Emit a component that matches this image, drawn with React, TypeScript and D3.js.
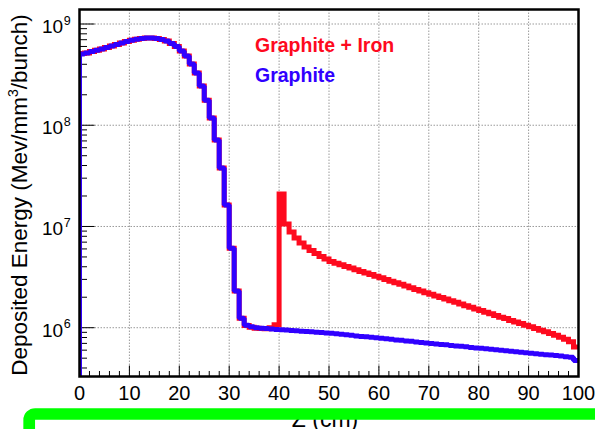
import React from "react";
import * as d3 from "d3";

// Energy deposited per 1 cm bin along Z (MeV/mm^3/bunch)
const graphite: number[] = [
  5.06e8, 5.17e8, 5.35e8, 5.5e8, 5.66e8, 5.86e8, 6.07e8, 6.27e8, 6.49e8, 6.71e8,
  6.9e8, 7.06e8, 7.19e8, 7.28e8, 7.28e8, 7.19e8, 7.03e8, 6.79e8, 6.41e8, 6.0e8,
  5.41e8, 4.83e8, 4.03e8, 3.28e8, 2.44e8, 1.77e8, 1.18e8, 7.14e7, 3.78e7, 1.63e7,
  6.1e6, 2.3e6, 1.24e6, 1.06e6, 1.02e6, 1.0e6, 9.9e5, 9.8e5, 9.7e5, 9.6e5,
  9.55e5, 9.47e5, 9.4e5, 9.32e5, 9.25e5, 9.17e5, 9.1e5, 9.02e5, 8.95e5, 8.87e5,
  8.8e5, 8.7e5, 8.6e5, 8.5e5, 8.4e5, 8.3e5, 8.21e5, 8.12e5, 8.03e5, 7.94e5,
  7.85e5, 7.76e5, 7.67e5, 7.58e5, 7.5e5, 7.41e5, 7.33e5, 7.24e5, 7.16e5, 7.08e5,
  7.0e5, 6.92e5, 6.84e5, 6.77e5, 6.69e5, 6.61e5, 6.54e5, 6.47e5, 6.39e5, 6.32e5,
  6.25e5, 6.18e5, 6.11e5, 6.04e5, 5.98e5, 5.91e5, 5.85e5, 5.78e5, 5.72e5, 5.66e5,
  5.6e5, 5.54e5, 5.48e5, 5.42e5, 5.36e5, 5.3e5, 5.24e5, 5.17e5, 5.1e5, 4.75e5,
];

const graphiteIron: number[] = [
  5.12e8, 5.17e8, 5.35e8, 5.5e8, 5.66e8, 5.86e8, 6.07e8, 6.27e8, 6.49e8, 6.71e8,
  6.9e8, 7.06e8, 7.19e8, 7.28e8, 7.28e8, 7.19e8, 7.03e8, 6.79e8, 6.41e8, 6.0e8,
  5.41e8, 4.83e8, 4.03e8, 3.28e8, 2.44e8, 1.77e8, 1.18e8, 7.14e7, 3.78e7, 1.63e7,
  6.1e6, 2.3e6, 1.24e6, 1.05e6, 1.01e6, 9.9e5, 9.8e5, 9.75e5, 1.0e6, 1.07e6,
  2.09e7, 1.057e7, 8.81e6, 7.68e6, 6.85e6, 6.26e6, 5.78e6, 5.4e6, 5.04e6, 4.76e6,
  4.5e6, 4.34e6, 4.18e6, 4.03e6, 3.88e6, 3.74e6, 3.6e6, 3.47e6, 3.35e6, 3.22e6,
  3.11e6, 2.99e6, 2.88e6, 2.78e6, 2.68e6, 2.58e6, 2.48e6, 2.39e6, 2.31e6, 2.22e6,
  2.14e6, 2.06e6, 1.99e6, 1.92e6, 1.85e6, 1.78e6, 1.71e6, 1.65e6, 1.59e6, 1.53e6,
  1.48e6, 1.42e6, 1.37e6, 1.32e6, 1.27e6, 1.23e6, 1.18e6, 1.14e6, 1.1e6, 1.06e6,
  1.02e6, 9.8e5, 9.45e5, 9.1e5, 8.75e5, 8.4e5, 8.05e5, 7.7e5, 7.25e5, 6.45e5,
];

const xTicks: number[] = [0, 10, 20, 30, 40, 50, 60, 70, 80, 90, 100];
const yDecades: number[] = [6, 7, 8, 9];
const legendLabels: string[] = ["Graphite + Iron", "Graphite"];

const W = 595;
const H = 429;
const L = 79.5;
const R = 578.5;
const T = 9.5;
const B = 376.5;
const RED = "#fe0a1e";
const BLUE = "#3000ff";
const FONT = "'Liberation Sans', Arial, Helvetica, sans-serif";

export default function App() {
  const x = d3.scaleLinear().domain([0, 100]).range([L, R]);
  const y = d3.scaleLog().domain([3.296e5, 1.391e9]).range([B, T]);
  const [yMin] = y.domain();

  const histPath = (vals: number[]) => {
    const pts: [number, number][] = [[0, yMin]];
    vals.forEach((v, i) => pts.push([i, v]));
    pts.push([vals.length, vals[vals.length - 1]]);
    return (
      d3
        .line<[number, number]>()
        .x((d) => x(d[0]))
        .y((d) => y(d[1]))
        .curve(d3.curveStepAfter)(pts) || ""
    );
  };

  const xMinor = d3.range(0, 101, 2).filter((v) => v % 10 !== 0);
  const yMinor: number[] = [];
  for (let d = 5; d <= 9; d++) {
    for (let k = 2; k <= 9; k++) {
      const v = k * Math.pow(10, d);
      if (v > y.domain()[0] && v < y.domain()[1]) yMinor.push(v);
    }
  }

  return (
    <svg
      width={W}
      height={H}
      style={{ position: "absolute", left: 0, top: 0, background: "#fff" }}
    >
      <defs>
        <clipPath id="plotArea">
          <rect x={L} y={T} width={R - L} height={B - T} />
        </clipPath>
      </defs>
      <rect x={0} y={0} width={W} height={H} fill="#fff" />

      {/* grid */}
      <g stroke="#9a9a9a" strokeWidth={1} strokeDasharray="1.5,1.5">
        {xTicks
          .filter((t) => t > 0 && t < 100)
          .map((t) => (
            <line key={"gx" + t} x1={x(t)} x2={x(t)} y1={T} y2={B} />
          ))}
        {yDecades.map((d) => (
          <line
            key={"gy" + d}
            x1={L}
            x2={R}
            y1={y(Math.pow(10, d))}
            y2={y(Math.pow(10, d))}
          />
        ))}
      </g>

      {/* ticks */}
      <g stroke="#000" strokeWidth={1}>
        {xTicks.map((t) => (
          <line key={"tx" + t} x1={x(t)} x2={x(t)} y1={B} y2={B - 11} />
        ))}
        {xMinor.map((t) => (
          <line key={"mx" + t} x1={x(t)} x2={x(t)} y1={B} y2={B - 5.5} />
        ))}
        {yDecades.map((d) => (
          <line
            key={"ty" + d}
            x1={L}
            x2={L + 15}
            y1={y(Math.pow(10, d))}
            y2={y(Math.pow(10, d))}
          />
        ))}
        {yMinor.map((v) => (
          <line key={"my" + v} x1={L} x2={L + 7.5} y1={y(v)} y2={y(v)} />
        ))}
      </g>

      {/* histograms */}
      <g clipPath="url(#plotArea)" fill="none" strokeWidth={5}>
        <path d={histPath(graphiteIron)} stroke={RED} strokeLinejoin="miter" />
        <path d={histPath(graphite)} stroke={BLUE} strokeLinejoin="bevel" />
      </g>

      {/* frame */}
      <rect
        x={L}
        y={T}
        width={R - L}
        height={B - T}
        fill="none"
        stroke="#000"
        strokeWidth={2.5}
      />

      {/* tick labels */}
      <g fontFamily={FONT} fill="#000">
        {xTicks.map((t) => (
          <text key={"lx" + t} x={x(t)} y={400} fontSize={20} textAnchor="middle">
            {t}
          </text>
        ))}
        {yDecades.map((d) => (
          <text key={"ly" + d} x={42} y={y(Math.pow(10, d)) + 9} fontSize={19}>
            10
            <tspan fontSize={12.5} dx={0.5} dy={-8.5}>
              {d}
            </tspan>
          </text>
        ))}
      </g>

      {/* axis titles */}
      <text
        transform="translate(27,195) rotate(-90)"
        textAnchor="middle"
        fontFamily={FONT}
        fontSize={22.5}
        fill="#000"
      >
        Deposited Energy (Mev/mm
        <tspan fontSize={14} dy={-9}>
          3
        </tspan>
        <tspan dy={9}>/bunch)</tspan>
      </text>
      <text
        x={325}
        y={427}
        textAnchor="middle"
        fontFamily={FONT}
        fontSize={23}
        fill="#000"
      >
        Z (cm)
      </text>

      {/* legend */}
      <g fontFamily={FONT} fontWeight="bold" fontSize={19.5}>
        <text x={255} y={52} fill={RED}>
          {legendLabels[0]}
        </text>
        <text x={255} y={82} fill={BLUE}>
          {legendLabels[1]}
        </text>
      </g>

      {/* highlight box */}
      <rect
        x={29.2}
        y={414}
        width={700}
        height={200}
        rx={6}
        fill="none"
        stroke="#00ff00"
        strokeWidth={11.7}
      />
    </svg>
  );
}
